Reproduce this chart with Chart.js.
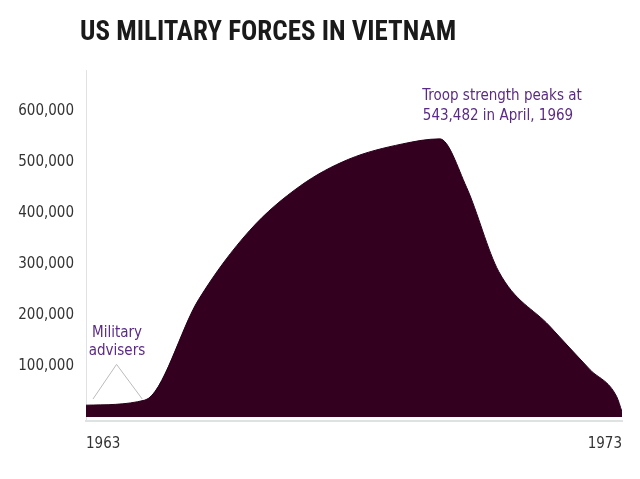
<!DOCTYPE html>
<html><head><meta charset="utf-8">
<script src="https://cdn.jsdelivr.net/npm/chart.js@4"></script>
<style>
body{margin:0;background:#fff;width:640px;height:479px;overflow:hidden}
#wrap{position:absolute;left:0;top:0;width:640px;height:479px}
</style></head><body>
<div id="wrap"><canvas id="c"></canvas></div>
<script>
// troop strength (year, troops)
const years  = [1963, 1964.1, 1965.1, 1966.05, 1967, 1967.9, 1968.9, 1969.6, 1970.1, 1970.7, 1971.65, 1972.4, 1972.9, 1973];
const troops = [23000, 33000, 230000, 365000, 453000, 505000, 535000, 545000, 450000, 285000, 178000, 93000, 40000, 10000];
const advYears = [1963.13, 1963.57, 1964.05];
const advVals  = [35000, 103000, 35000];
const yTicks = [100000, 200000, 300000, 400000, 500000, 600000];
const xTicks = [1963, 1973];

const notes = {
  id: 'notes',
  afterDraw(chart) {
    const c = chart.ctx;
    c.save();
    c.fillStyle = '#1a1a1a';
    c.font = 'bold 27px "Roboto Condensed", "Liberation Sans Narrow", "DejaVu Sans Condensed", sans-serif';
    c.textBaseline = 'alphabetic';
    c.fillText('US MILITARY FORCES IN VIETNAM', 80, 40);
    c.fillStyle = '#5b2a86';
    c.font = '15px "Liberation Sans Narrow", "DejaVu Sans Condensed", sans-serif';
    c.textAlign = 'center';
    c.fillText('Troop strength peaks at', 502, 100);
    c.fillText('543,482 in April, 1969', 498, 120);
    c.fillText('Military', 117, 337);
    c.fillText('advisers', 117, 355);
    c.restore();
  }
};

new Chart(document.getElementById('c'), {
  type: 'line',
  data: {
    datasets: [{
      data: years.map((y, i) => ({ x: y, y: troops[i] })),
      fill: 'origin',
      backgroundColor: '#33001f',
      borderColor: '#2a001a',
      borderWidth: 1,
      pointRadius: 0,
      cubicInterpolationMode: 'monotone'
    }, {
      data: advYears.map((y, i) => ({ x: y, y: advVals[i] })),
      borderColor: '#bbbbbb',
      borderWidth: 1,
      pointRadius: 0,
      fill: false,
      tension: 0
    }]
  },
  options: {
    responsive: true,
    maintainAspectRatio: false,
    animation: false,
    layout: { padding: { top: 70, right: 18, bottom: 12, left: 0 } },
    plugins: { legend: { display: false }, tooltip: { enabled: false } },
    scales: {
      x: {
        type: 'linear', min: 1963, max: 1973,
        afterBuildTicks: s => { s.ticks = xTicks.map(v => ({ value: v })); },
        grid: { display: false, drawTicks: false },
        border: { color: '#dde3e3', width: 2 },
        ticks: { color: '#333', padding: 14, maxRotation: 0, align: 'inner', font: { size: 15, family: '"Liberation Sans Narrow", "DejaVu Sans Condensed", sans-serif' }, callback: v => String(v) }
      },
      y: {
        min: -8000, max: 680000,
        afterBuildTicks: s => { s.ticks = yTicks.map(v => ({ value: v })); },
        afterFit: s => { s.width = 86; },
        grid: { display: false, drawTicks: false },
        border: { color: '#dde3e3', width: 1 },
        ticks: { color: '#333', padding: 12, font: { size: 15, family: '"Liberation Sans Narrow", "DejaVu Sans Condensed", sans-serif' }, callback: v => v.toLocaleString('en-US') }
      }
    }
  },
  plugins: [notes]
});
</script>
</body></html>
